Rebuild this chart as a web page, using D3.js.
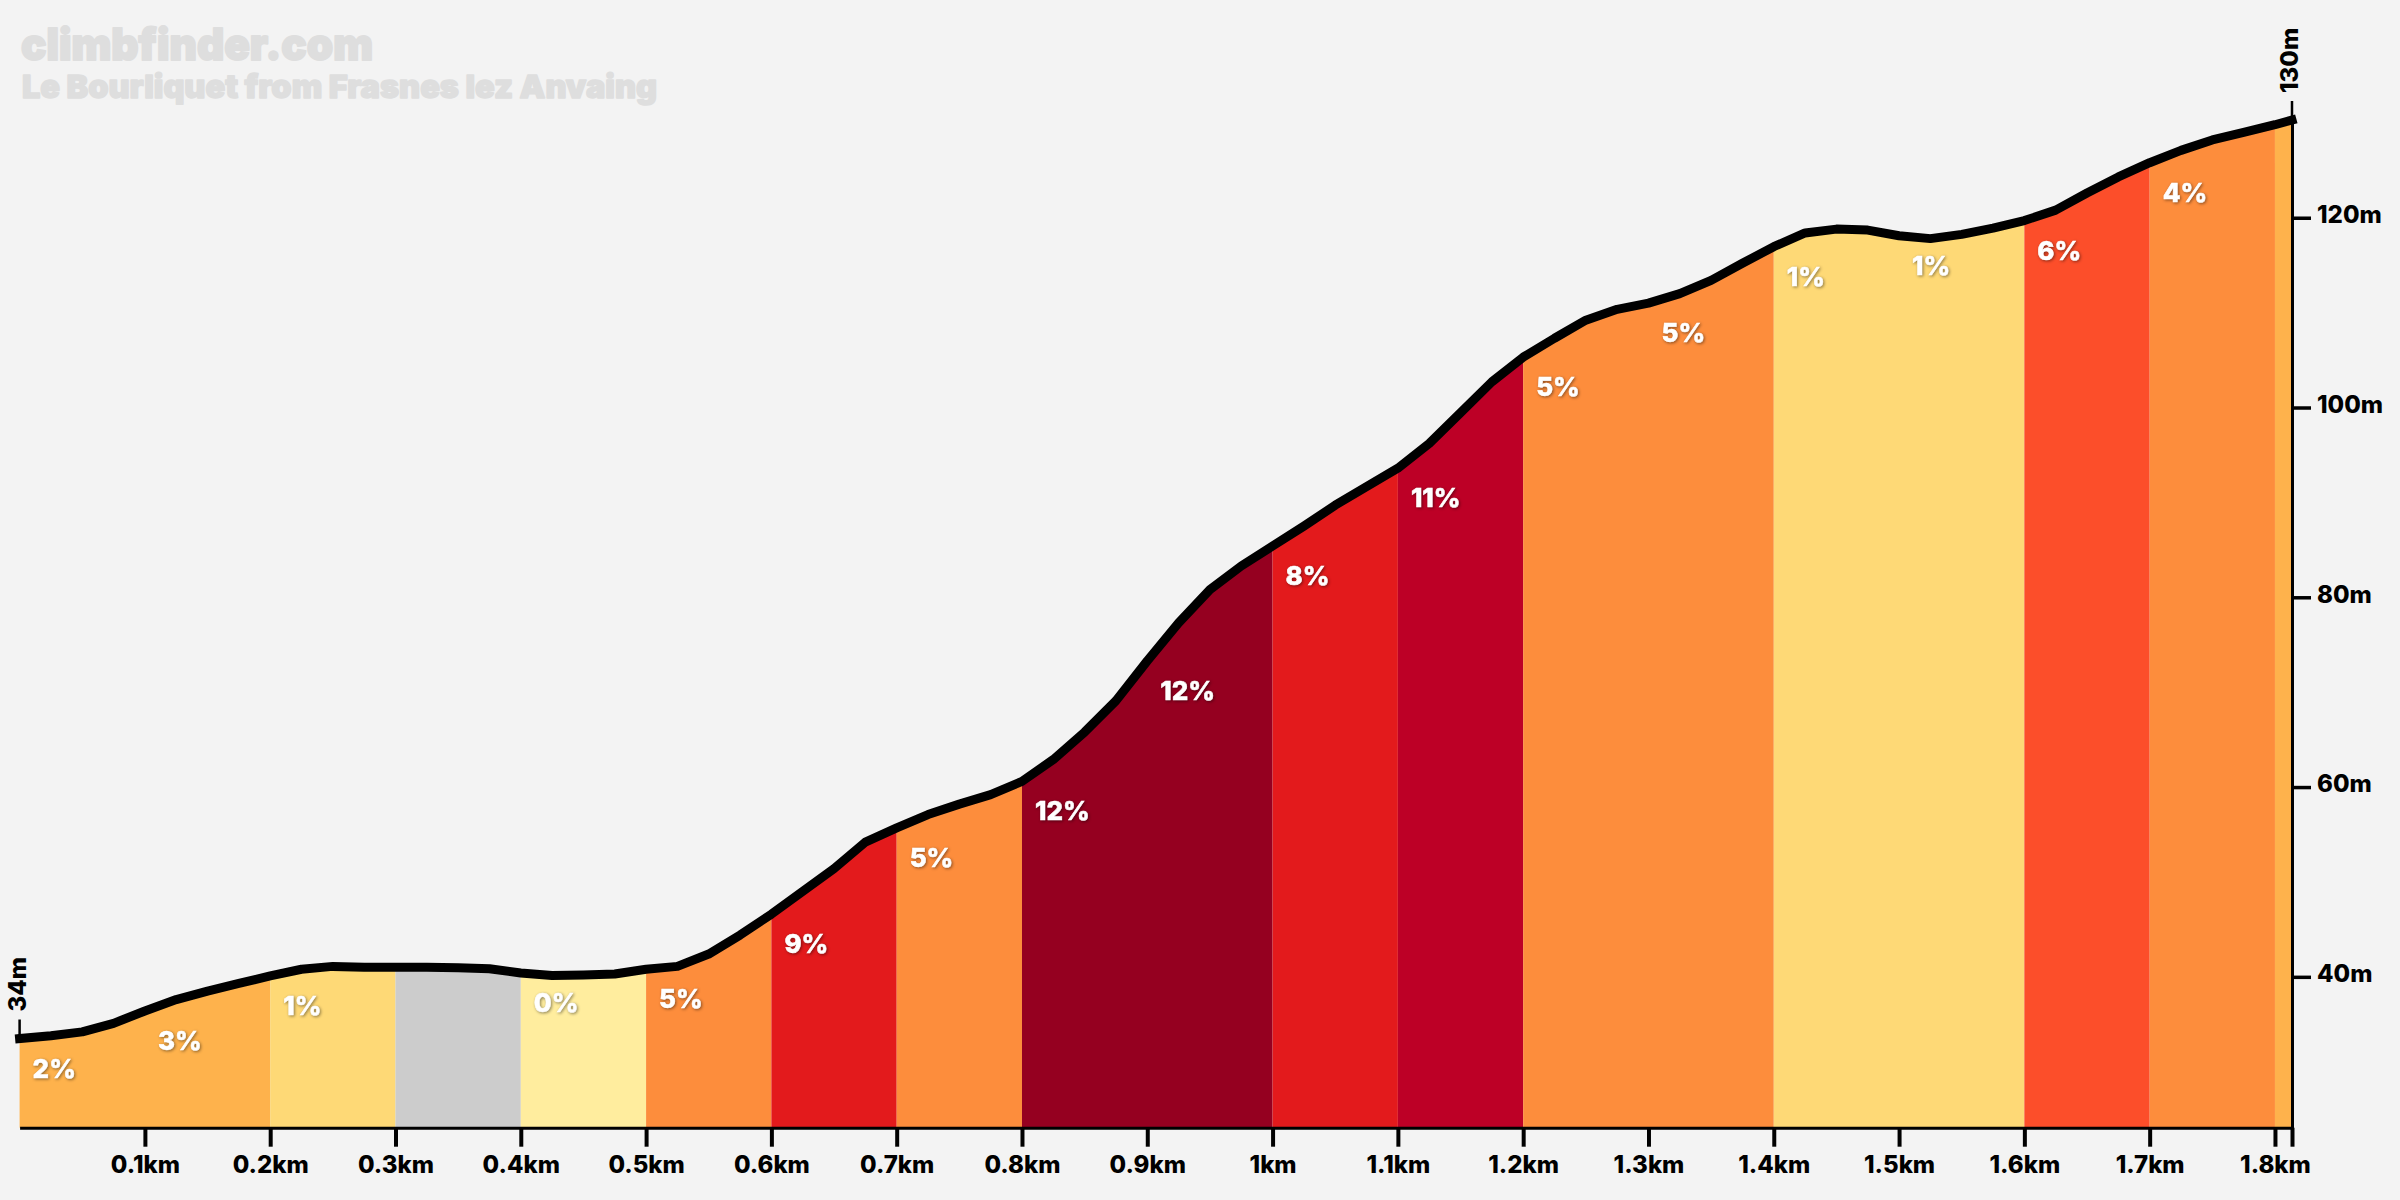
<!DOCTYPE html>
<html>
<head>
<meta charset="utf-8">
<script src="https://cdn.jsdelivr.net/npm/d3@7"></script>
<style>
  html, body { margin: 0; background: #f3f3f3; }
  svg { display: block; }
  text { font-family: Inter, "Open Sans", sans-serif; }
  .axis text, text.axis { font-size: 24px; font-weight: 800; fill: #000; }
  .grade { font-size: 26px; font-weight: 800; fill: #fff; stroke: #fff; stroke-width: 0.5; filter: drop-shadow(1px 1px 1.5px rgba(0,0,0,0.45)); }
  .title { font-weight: 900; fill: #dedede; stroke: #dedede; stroke-linejoin: round; }
</style>
</head>
<body>
<svg id="chart"></svg>
<script>
// distance in km
const distances = [0, 0.025, 0.05, 0.075, 0.1, 0.125, 0.15, 0.175, 0.2, 0.225, 0.25, 0.275, 0.3, 0.325, 0.35, 0.375,
  0.4, 0.425, 0.45, 0.475, 0.5, 0.525, 0.55, 0.575, 0.6, 0.625, 0.65, 0.675, 0.7, 0.725, 0.75, 0.775,
  0.8, 0.825, 0.85, 0.875, 0.9, 0.925, 0.95, 0.975, 1, 1.025, 1.05, 1.075, 1.1, 1.125, 1.15, 1.175,
  1.2, 1.225, 1.25, 1.275, 1.3, 1.325, 1.35, 1.375, 1.4, 1.425, 1.45, 1.475, 1.5, 1.525, 1.55, 1.575,
  1.6, 1.625, 1.65, 1.675, 1.7, 1.725, 1.75, 1.775, 1.8, 1.8136];
// elevation in m
const elevations = [33.5, 33.8, 34.2, 35.1, 36.4, 37.6, 38.5, 39.3, 40.1, 40.8, 41.1, 41.0, 41.0, 41.0, 40.95, 40.85,
  40.4, 40.15, 40.2, 40.3, 40.8, 41.1, 42.4, 44.4, 46.6, 49.0, 51.4, 54.2, 55.7, 57.1, 58.2, 59.2,
  60.6, 62.9, 65.8, 69.1, 73.3, 77.3, 80.8, 83.3, 85.4, 87.5, 89.7, 91.65, 93.6, 96.2, 99.45, 102.7,
  105.3, 107.3, 109.2, 110.35, 111.0, 112.0, 113.4, 115.2, 116.95, 118.4, 118.8, 118.7, 118.1, 117.8, 118.25, 118.9,
  119.7, 120.8, 122.6, 124.3, 125.8, 127.1, 128.2, 129.0, 129.8, 130.3];

// colour bands
const bandStarts = [0, 0.2, 0.3, 0.4, 0.5, 0.6, 0.7, 0.8, 1, 1.1, 1.2, 1.4, 1.6, 1.7, 1.8];
const bandEnds = [0.2, 0.3, 0.4, 0.5, 0.6, 0.7, 0.8, 1, 1.1, 1.2, 1.4, 1.6, 1.7, 1.8, 1.8136];
const bandColors = ['#feb24c', '#fed976', '#cccccc', '#ffed9e', '#fd8d3c', '#e31a1c', '#fd8d3c', '#950020',
  '#e31a1c', '#bd0026', '#fd8d3c', '#fed976', '#fc4e2a', '#fd8d3c', '#feb24c'];

// gradient labels per 100m
const gradeStarts = [0, 0.1, 0.2, 0.4, 0.5, 0.6, 0.7, 0.8, 0.9, 1, 1.1, 1.2, 1.3, 1.4, 1.5, 1.6, 1.7];
const gradeLabels = ['2%', '3%', '1%', '0%', '5%', '9%', '5%', '12%', '12%', '8%', '11%', '5%', '5%', '1%', '1%', '6%', '4%'];

const xTicks = [0.1, 0.2, 0.3, 0.4, 0.5, 0.6, 0.7, 0.8, 0.9, 1, 1.1, 1.2, 1.3, 1.4, 1.5, 1.6, 1.7, 1.8, 1.8136];
const xTickLabels = ['0.1km', '0.2km', '0.3km', '0.4km', '0.5km', '0.6km', '0.7km', '0.8km', '0.9km', '1km', '1.1km', '1.2km',
  '1.3km', '1.4km', '1.5km', '1.6km', '1.7km', '1.8km', ''];
const yTicks = [40, 60, 80, 100, 120];

const width = 2400;
const height = 1200;
const bottomY = 1127.7;
const topY = 120;

const svg = d3.select('#chart').attr('width', width).attr('height', height).attr('viewBox', `0 0 ${width} ${height}`);

const x = d3.scaleLinear().domain([0, 1.8136]).range([19.6, 2292]);
const y = d3.scaleLinear().domain([24.1, 130.3]).range([bottomY, topY]);

const profile = distances.map((d, i) => ({ d: d, e: elevations[i] }));

// coloured slices under the line
const area = d3.area().x(p => x(p.d)).y0(bottomY).y1(p => y(p.e));
bandStarts.forEach((start, i) => {
  let pts = profile.filter(p => p.d >= start && p.d <= bandEnds[i]);
  svg.append('path').attr('d', area(pts)).attr('fill', bandColors[i]);
});

// axes
let xAxis = svg.append('g')
  .attr('class', 'axis')
  .attr('transform', `translate(0,${bottomY})`)
  .call(d3.axisBottom(x).tickValues(xTicks).tickSize(19).tickSizeOuter(0).tickPadding(9)
    .tickFormat((d, i) => xTickLabels[i]));
xAxis.select('.domain').attr('stroke', '#000').attr('stroke-width', 3);
xAxis.selectAll('.tick line').attr('stroke', '#000').attr('stroke-width', 4);

let yAxis = svg.append('g')
  .attr('class', 'axis')
  .attr('transform', `translate(${x(1.8136)},0)`)
  .call(d3.axisRight(y).tickValues(yTicks).tickSize(19).tickSizeOuter(0).tickPadding(6)
    .tickFormat(d => d + 'm'));
yAxis.select('.domain').attr('stroke', '#000').attr('stroke-width', 3);
yAxis.selectAll('.tick line').attr('stroke', '#000').attr('stroke-width', 3.5);
yAxis.selectAll('.tick text').attr('dy', '0.2em');

// start and end marks
const ends = [profile[0], profile[profile.length - 1]];
ends.forEach(p => {
  svg.append('line')
    .attr('x1', x(p.d)).attr('x2', x(p.d))
    .attr('y1', y(p.e)).attr('y2', y(p.e) - 19)
    .attr('stroke', '#000').attr('stroke-width', 2.5);
  svg.append('text')
    .attr('class', 'axis')
    .attr('transform', `translate(${x(p.d) + 6},${y(p.e) - 27}) rotate(-90)`)
    .text(Math.round(p.e) + 'm');
});

// the profile line
const line = d3.line().x(p => x(p.d)).y(p => y(p.e));
svg.append('path')
  .attr('d', line(profile))
  .attr('fill', 'none')
  .attr('stroke', '#000')
  .attr('stroke-width', 9)
  .attr('stroke-linejoin', 'round')
  .attr('stroke-linecap', 'square');

// gradient labels
gradeStarts.forEach((start, i) => {
  let p = profile.find(q => q.d === start);
  svg.append('text')
    .attr('class', 'grade')
    .attr('x', x(start) + 13)
    .attr('y', y(p.e) + 39)
    .text(gradeLabels[i]);
});

svg.append('text').attr('class', 'title').attr('x', 21).attr('y', 60)
  .attr('font-size', 44).attr('stroke-width', 2)
  .attr('textLength', 352).attr('lengthAdjust', 'spacingAndGlyphs').text('climbfinder.com');
svg.append('text').attr('class', 'title').attr('x', 22).attr('y', 98)
  .attr('font-size', 32).attr('stroke-width', 1.5)
  .attr('textLength', 635).attr('lengthAdjust', 'spacingAndGlyphs').text('Le Bourliquet from Frasnes lez Anvaing');
</script>
</body>
</html>
